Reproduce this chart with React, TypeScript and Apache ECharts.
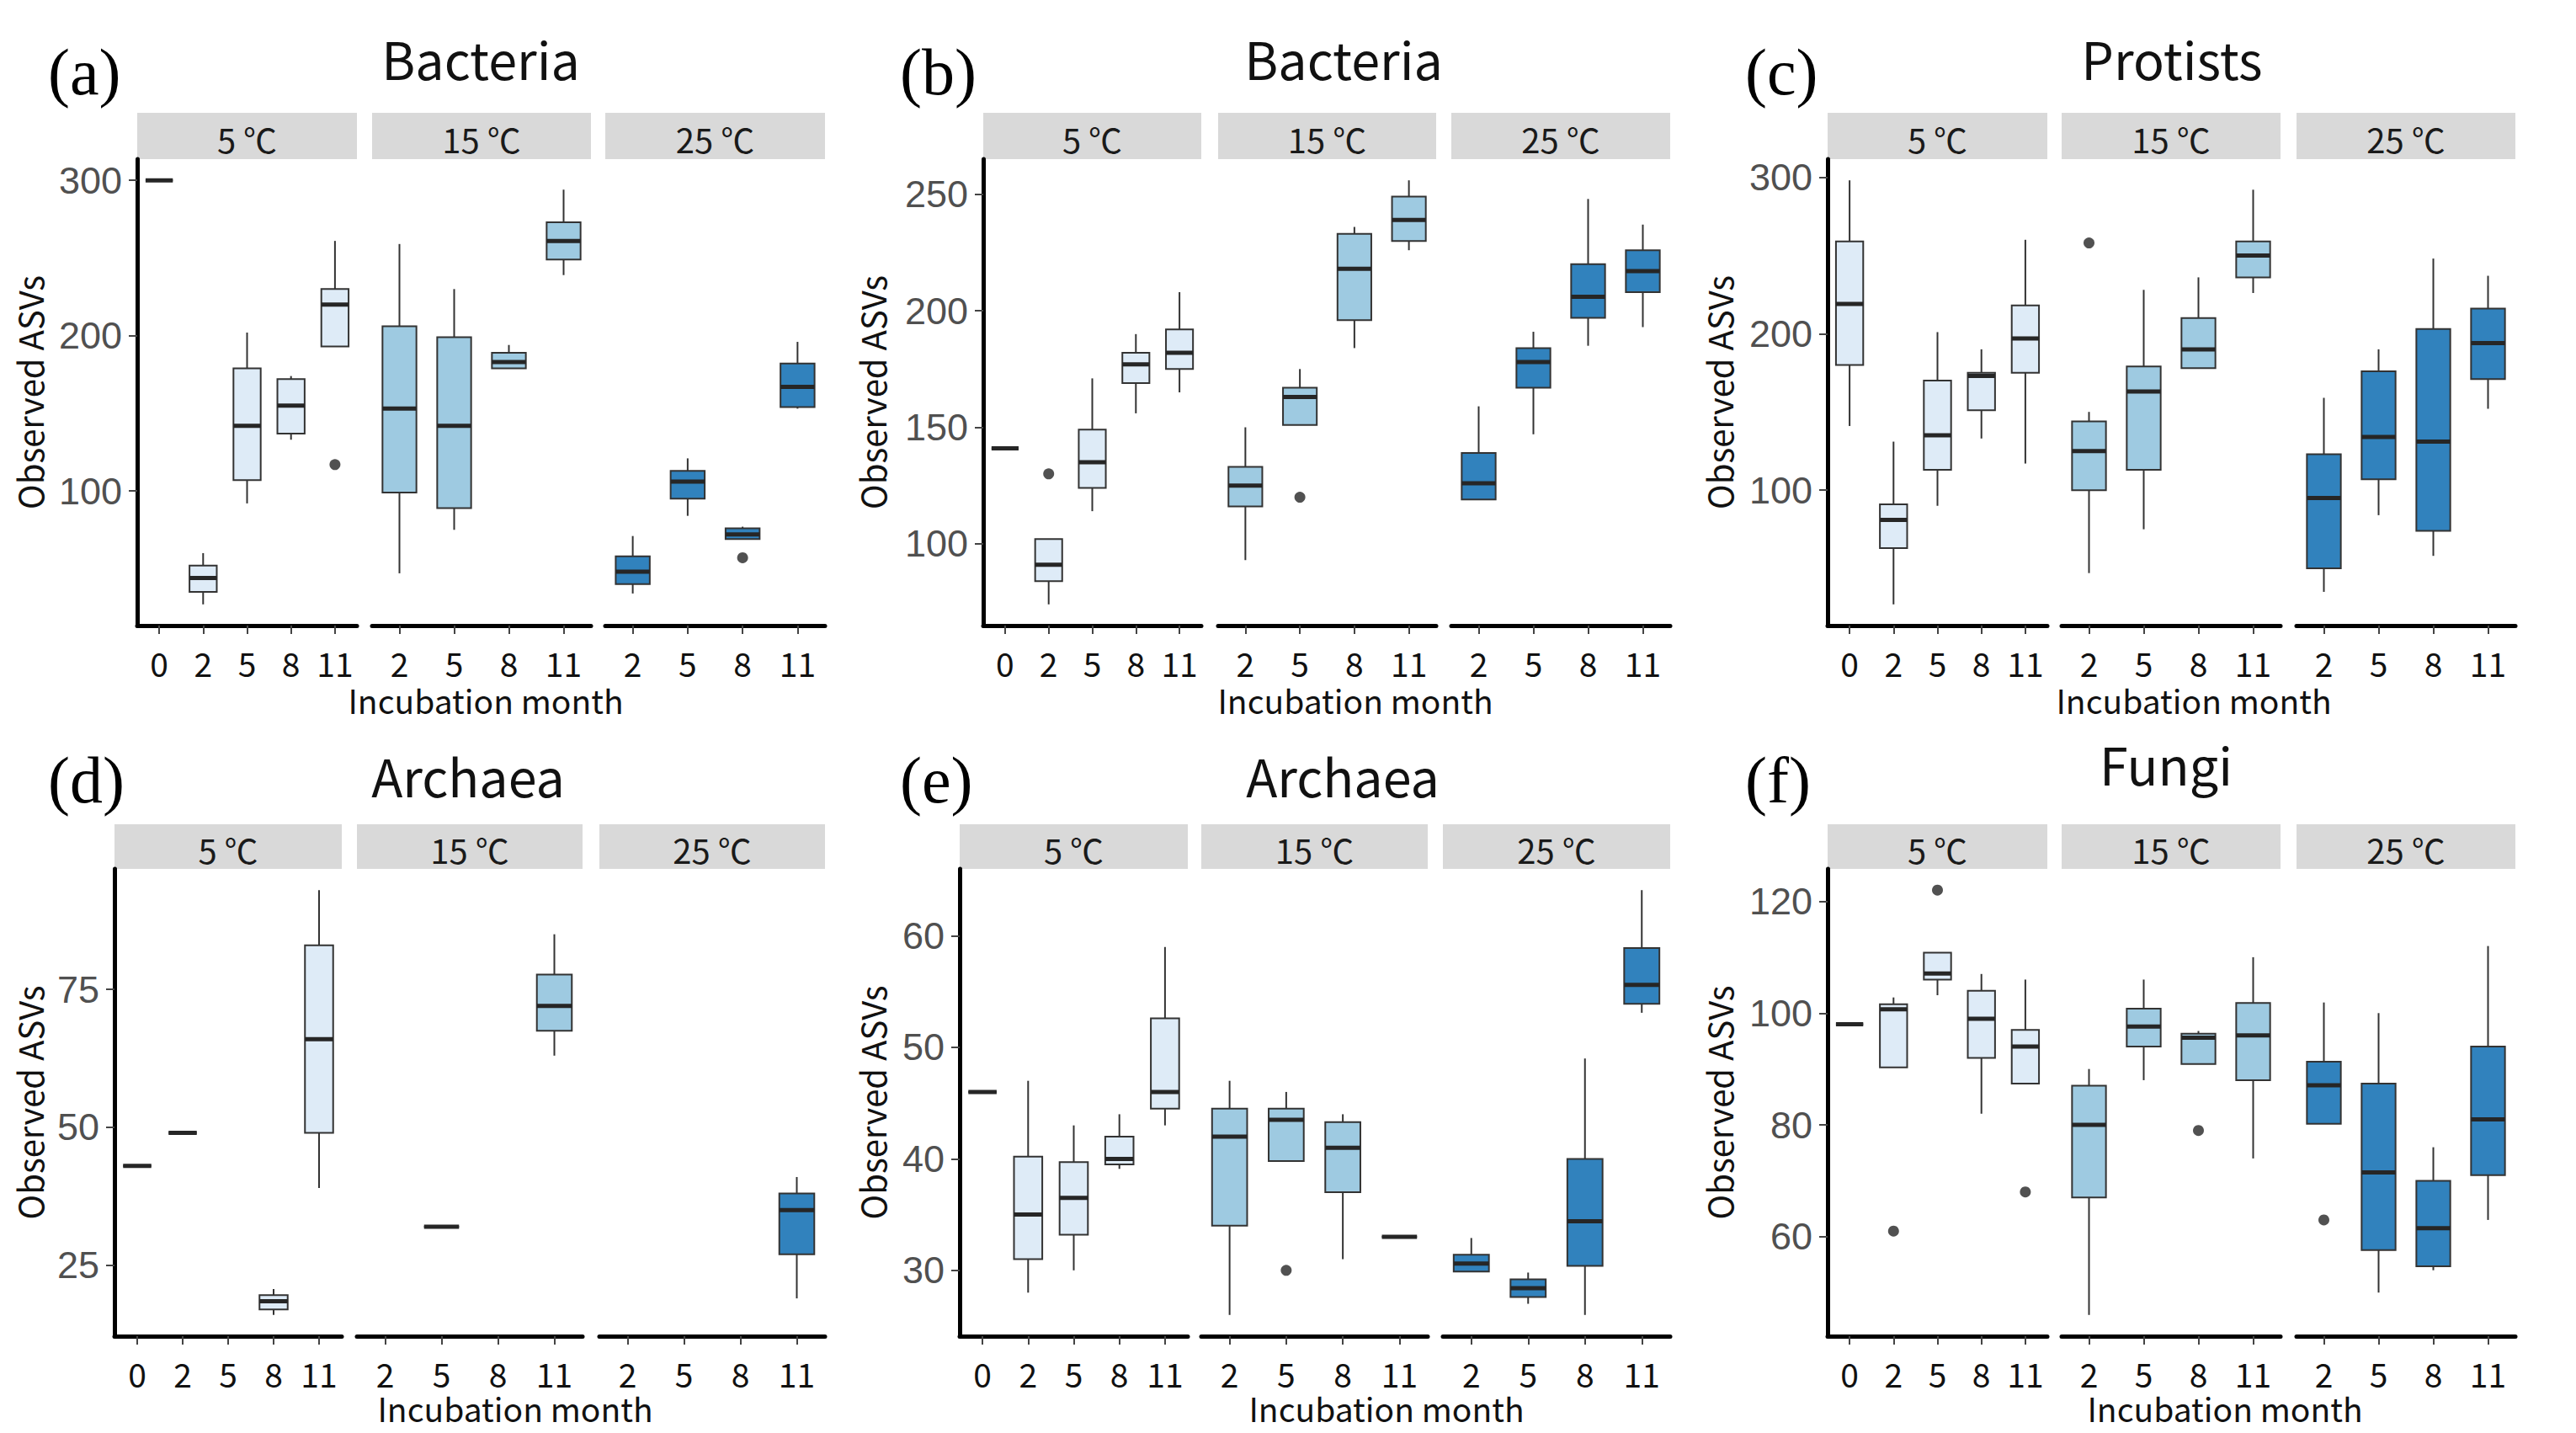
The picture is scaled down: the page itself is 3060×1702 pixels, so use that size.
import React, { useEffect, useRef } from 'react';
import * as echarts from 'echarts';

// ---------- categories / labels ----------
const monthsWithStart = ['0', '2', '5', '8', '11'];
const monthsLater = ['2', '5', '8', '11'];
const temperatureLabels = ['5 ℃', '15 ℃', '25 ℃'];
const panelLetters = ['(a)', '(b)', '(c)', '(d)', '(e)', '(f)'];
const panelTitles = ['Bacteria', 'Bacteria', 'Protists', 'Archaea', 'Archaea', 'Fungi'];
const yAxisTitle = 'Observed ASVs';
const xAxisTitle = 'Incubation month';

// ---------- y tick labels ----------
const yTicksA = [100, 200, 300];
const yTicksB = [100, 150, 200, 250];
const yTicksC = [100, 200, 300];
const yTicksD = [25, 50, 75];
const yTicksE = [30, 40, 50, 60];
const yTicksF = [60, 80, 100, 120];

// ---------- box statistics: [min, Q1, median, Q3, max], null = no sample ----------
// (a) Bacteria
const bacteriaA_5C = [[300, 300, 300, 300, 300], [27, 35, 44, 52, 60], [92, 107, 142, 179, 202], [133, 137, 155, 172, 174], [193, 193, 220, 230, 261]];
const bacteriaA_15C = [[47, 99, 153, 206, 259], [75, 89, 142, 199, 230], [179, 179, 183, 189, 194], [239, 249, 261, 273, 294]];
const bacteriaA_25C = [[34, 40, 48, 58, 71], [84, 95, 106, 113, 121], [69, 69, 72, 76, 77], [153, 154, 167, 182, 196]];
const bacteriaA_out5C = [[4, 117]];
const bacteriaA_out15C: number[][] = [];
const bacteriaA_out25C = [[2, 57]];

// (b) Bacteria
const bacteriaB_5C = [[141, 141, 141, 141, 141], [74, 84, 91, 102, 102], [114, 124, 135, 149, 171], [156, 169, 177, 182, 190], [165, 175, 182, 192, 208]];
const bacteriaB_15C = [[93, 116, 125, 133, 150], [151, 151, 163, 167, 175], [184, 196, 218, 233, 236], [226, 230, 239, 249, 256]];
const bacteriaB_25C = [[119, 119, 126, 139, 159], [147, 167, 178, 184, 191], [185, 197, 206, 220, 248], [193, 208, 217, 226, 237]];
const bacteriaB_out5C = [[1, 130]];
const bacteriaB_out15C = [[1, 120]];
const bacteriaB_out25C: number[][] = [];

// (c) Protists
const protists_5C = [[141, 180, 219, 259, 298], [27, 63, 81, 91, 131], [90, 113, 135, 170, 201], [133, 151, 173, 175, 190], [117, 175, 197, 218, 260]];
const protists_15C = [[47, 100, 125, 144, 150], [75, 113, 163, 179, 228], [178, 178, 190, 210, 236], [226, 236, 250, 259, 292]];
const protists_25C = [[35, 50, 95, 123, 159], [84, 107, 134, 176, 190], [58, 74, 131, 203, 248], [152, 171, 194, 216, 237]];
const protists_out5C: number[][] = [];
const protists_out15C = [[0, 258]];
const protists_out25C: number[][] = [];

// (d) Archaea
const archaeaD_5C = [[43, 43, 43, 43, 43], [49, 49, 49, 49, 49], null, [16, 17, 18.5, 19.6, 20.7], [39, 49, 66, 83, 93]];
const archaeaD_15C = [null, [32, 32, 32, 32, 32], null, [63, 67.5, 72, 77.7, 85]];
const archaeaD_25C = [null, null, null, [19, 27, 35, 38, 41]];
const archaeaD_out5C: number[][] = [];
const archaeaD_out15C: number[][] = [];
const archaeaD_out25C: number[][] = [];

// (e) Archaea
const archaeaE_5C = [[46, 46, 46, 46, 46], [28, 31, 35, 40.2, 47], [30, 33.2, 36.5, 39.7, 43], [39.1, 39.5, 40, 42, 44], [43, 44.5, 46, 52.6, 59]];
const archaeaE_15C = [[26, 34, 42, 44.5, 47], [39.8, 39.8, 43.5, 44.5, 46], [31, 37, 41, 43.3, 44], [33, 33, 33, 33, 33]];
const archaeaE_25C = [[29.9, 29.9, 30.6, 31.4, 32.9], [27, 27.6, 28.4, 29.2, 29.8], [26, 30.4, 34.4, 40, 49], [53.1, 53.9, 55.6, 58.9, 64.1]];
const archaeaE_out5C: number[][] = [];
const archaeaE_out15C = [[1, 30]];
const archaeaE_out25C: number[][] = [];

// (f) Fungi
const fungi_5C = [[98, 98, 98, 98, 98], [90.3, 90.3, 100.7, 101.6, 102.8], [103.2, 106, 107.1, 110.8, 110.8], [82, 92, 99, 104, 107], [87.4, 87.4, 94, 97, 106]];
const fungi_15C = [[46, 67, 80, 87, 90], [88, 94, 97.6, 100.8, 106], [90.9, 90.9, 95.6, 96.3, 96.8], [74, 88, 96, 101.8, 110]];
const fungi_25C = [[80.2, 80.2, 87.1, 91.3, 101.9], [50, 57.6, 71.5, 87.4, 100], [54, 54.7, 61.5, 70, 76], [63, 71, 81, 94, 112]];
const fungi_out5C = [[1, 61], [2, 122], [4, 68]];
const fungi_out15C = [[2, 79]];
const fungi_out25C = [[0, 63]];

const panelBoxes = [
  [bacteriaA_5C, bacteriaA_15C, bacteriaA_25C],
  [bacteriaB_5C, bacteriaB_15C, bacteriaB_25C],
  [protists_5C, protists_15C, protists_25C],
  [archaeaD_5C, archaeaD_15C, archaeaD_25C],
  [archaeaE_5C, archaeaE_15C, archaeaE_25C],
  [fungi_5C, fungi_15C, fungi_25C],
];
const panelOutliers = [
  [bacteriaA_out5C, bacteriaA_out15C, bacteriaA_out25C],
  [bacteriaB_out5C, bacteriaB_out15C, bacteriaB_out25C],
  [protists_out5C, protists_out15C, protists_out25C],
  [archaeaD_out5C, archaeaD_out15C, archaeaD_out25C],
  [archaeaE_out5C, archaeaE_out15C, archaeaE_out25C],
  [fungi_out5C, fungi_out15C, fungi_out25C],
];
const panelYTicks = [yTicksA, yTicksB, yTicksC, yTicksD, yTicksE, yTicksF];

// ---------- layout (pixels) ----------
const TOP_ROW = { stripTop: 134, top: 189, bottom: 743, xNameY: 831 };
const BOTTOM_ROW = { stripTop: 979, top: 1032, bottom: 1587, xNameY: 1672 };
const panelLayouts = [
  { row: TOP_ROW, facets: [[163, 424], [442, 702], [719, 980]], letter: [57, 85], title: [571, 68], xNameX: 577, yNameX: 35 },
  { row: TOP_ROW, facets: [[1168, 1427], [1447, 1706], [1724, 1984]], letter: [1069, 85], title: [1596, 68], xNameX: 1610, yNameX: 1036 },
  { row: TOP_ROW, facets: [[2171, 2432], [2449, 2709], [2728, 2988]], letter: [2073, 85], title: [2580, 68], xNameX: 2606, yNameX: 2042 },
  { row: BOTTOM_ROW, facets: [[136, 406], [424, 692], [712, 980]], letter: [57, 926], title: [556, 920], xNameX: 612, yNameX: 35 },
  { row: BOTTOM_ROW, facets: [[1140, 1411], [1427, 1696], [1714, 1984]], letter: [1069, 926], title: [1595, 920], xNameX: 1647, yNameX: 1036 },
  { row: BOTTOM_ROW, facets: [[2171, 2432], [2449, 2709], [2728, 2988]], letter: [2073, 926], title: [2573, 906], xNameX: 2643, yNameX: 2042 },
];

const FILLS = ['#deebf7', '#9ecae1', '#3182bd'];
const BOX_RATIO = 0.62;
const SANS = '"Noto Sans CJK KR", "Noto Sans", sans-serif';

function buildOption() {
  const grid: any[] = [];
  const xAxis: any[] = [];
  const yAxis: any[] = [];
  const series: any[] = [];
  const graphic: any[] = [];

  panelBoxes.forEach((facetBoxes, pi) => {
    const L = panelLayouts[pi];
    const R = L.row;
    const vals: number[] = [];
    facetBoxes.forEach((fb) => fb.forEach((b) => { if (b) vals.push(...b); }));
    panelOutliers[pi].forEach((fo) => fo.forEach((o) => vals.push(o[1])));
    const lo = Math.min(...vals);
    const hi = Math.max(...vals);
    const pad = (hi - lo) * 0.05;
    const ticks = panelYTicks[pi];

    facetBoxes.forEach((boxes, f) => {
      const gi = grid.length;
      const [x0, x1] = L.facets[f];
      grid.push({ left: x0, top: R.top, width: x1 - x0, height: R.bottom - R.top });
      xAxis.push({
        gridIndex: gi,
        type: 'category',
        data: f === 0 ? monthsWithStart : monthsLater,
        boundaryGap: true,
        axisLine: { show: true, lineStyle: { color: '#000', width: 5 } },
        axisTick: { show: true, alignWithLabel: true, length: 10, lineStyle: { color: '#444', width: 2 } },
        axisLabel: { interval: 0, fontSize: 39, lineHeight: 30, color: '#111', fontFamily: SANS, margin: 29 },
        splitLine: { show: false },
      });
      yAxis.push({
        gridIndex: gi,
        type: 'value',
        min: lo - pad,
        max: hi + pad,
        show: f === 0,
        axisLine: { show: true, lineStyle: { color: '#000', width: 5 } },
        axisTick: { show: true, length: 10, customValues: ticks, lineStyle: { color: '#444', width: 2 } },
        axisLabel: { customValues: ticks, fontSize: 45, color: '#505050', fontFamily: '"Liberation Sans", Arial, sans-serif', margin: 18 },
        splitLine: { show: false },
      });
      const boxData = boxes
        .map((b, i) => (b ? [i, ...b] : null))
        .filter((d) => d !== null);
      const fill = FILLS[f];
      series.push({
        type: 'custom',
        xAxisIndex: gi,
        yAxisIndex: gi,
        data: boxData,
        encode: { x: 0, y: [1, 2, 3, 4, 5] },
        silent: true,
        z: 2,
        renderItem: (params: any, api: any) => {
          const i = api.value(0);
          const p = [1, 2, 3, 4, 5].map((k) => api.coord([i, api.value(k)]));
          const cx = p[0][0];
          const hw = (api.size([1, 0])[0] * BOX_RATIO) / 2;
          const [yMin, yQ1, yMed, yQ3, yMax] = p.map((q: number[]) => q[1]);
          const lineStyle = { stroke: '#333', lineWidth: 2 };
          return {
            type: 'group',
            children: [
              { type: 'line', shape: { x1: cx, y1: yMax, x2: cx, y2: yQ3 }, style: lineStyle },
              { type: 'line', shape: { x1: cx, y1: yQ1, x2: cx, y2: yMin }, style: lineStyle },
              { type: 'rect', shape: { x: cx - hw, y: yQ3, width: hw * 2, height: yQ1 - yQ3 }, style: { fill, stroke: '#333', lineWidth: 2 } },
              { type: 'line', shape: { x1: cx - hw, y1: yMed, x2: cx + hw, y2: yMed }, style: { stroke: '#262626', lineWidth: 5 } },
            ],
          };
        },
      });
      series.push({
        type: 'scatter',
        xAxisIndex: gi,
        yAxisIndex: gi,
        data: panelOutliers[pi][f],
        symbol: 'circle',
        symbolSize: 13,
        silent: true,
        itemStyle: { color: '#262626' },
        z: 3,
      });
      // facet strip
      graphic.push({
        type: 'rect',
        shape: { x: x0, y: R.stripTop, width: x1 - x0, height: R.top - R.stripTop },
        style: { fill: '#d9d9d9' },
      });
      graphic.push({
        type: 'text',
        x: (x0 + x1) / 2,
        y: (R.stripTop + R.top) / 2 + 3,
        style: { text: temperatureLabels[f], fontSize: 40, fontFamily: SANS, fill: '#1a1a1a', align: 'center', verticalAlign: 'middle' },
      });
    });

    graphic.push({
      type: 'text',
      x: L.letter[0],
      y: L.letter[1],
      style: { text: panelLetters[pi], fontSize: 78, fontFamily: '"Liberation Serif", "Times New Roman", serif', fill: '#000', align: 'left', verticalAlign: 'middle' },
    });
    graphic.push({
      type: 'text',
      x: L.title[0],
      y: L.title[1],
      style: { text: panelTitles[pi], fontSize: 61, fontFamily: SANS, fill: '#111', align: 'center', verticalAlign: 'middle' },
    });
    graphic.push({
      type: 'text',
      x: L.xNameX,
      y: R.xNameY,
      style: { text: xAxisTitle, fontSize: 39, lineHeight: 30, fontFamily: SANS, fill: '#111', align: 'center', verticalAlign: 'middle' },
    });
    graphic.push({
      type: 'text',
      x: L.yNameX,
      y: (R.top + R.bottom) / 2,
      rotation: Math.PI / 2,
      style: { text: yAxisTitle, fontSize: 40, fontFamily: SANS, fill: '#111', align: 'center', verticalAlign: 'middle' },
    });
  });

  return {
    animation: false,
    backgroundColor: '#ffffff',
    textStyle: { fontFamily: SANS },
    grid,
    xAxis,
    yAxis,
    series,
    graphic,
  };
}

export default function App() {
  const ref = useRef<HTMLDivElement>(null);
  useEffect(() => {
    if (!ref.current) return;
    const chart = echarts.init(ref.current, null, { renderer: 'svg' });
    chart.setOption(buildOption() as any);
    return () => chart.dispose();
  }, []);
  return (
    <div
      ref={ref}
      style={{ position: 'absolute', left: 0, top: 0, width: 3060, height: 1702, background: '#fff' }}
    />
  );
}
